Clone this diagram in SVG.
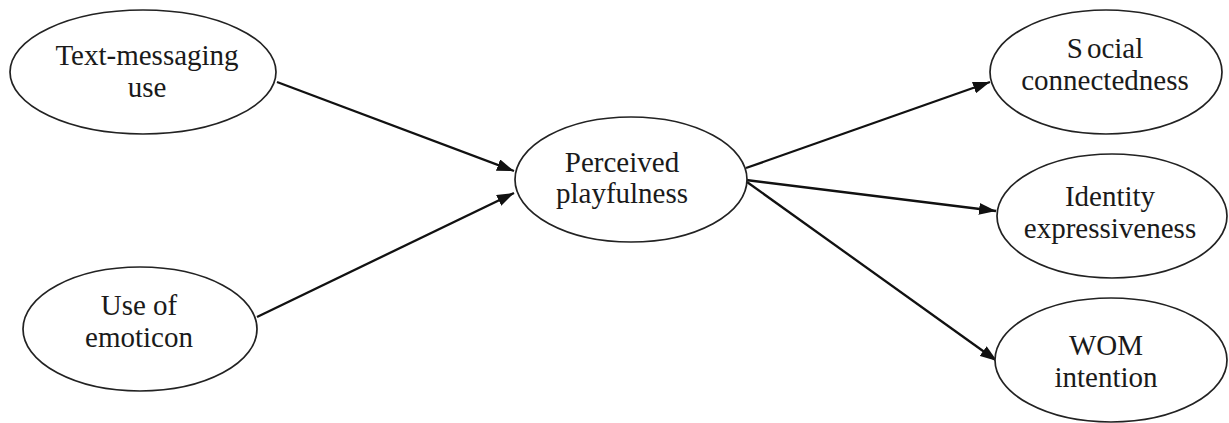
<svg xmlns="http://www.w3.org/2000/svg" width="1229" height="423" viewBox="0 0 1229 423">
<style>
.n{fill:#fff;stroke:#222;stroke-width:1.7}
.t{font-family:"Liberation Serif","Times New Roman",serif;font-size:29px;fill:#1a1a1a;text-anchor:middle}
.c{stroke:#111;stroke-width:2.3;fill:none;marker-end:url(#ah)}
</style>
<defs>
<marker id="ah" viewBox="0 0 17 12" refX="17" refY="6" markerWidth="17" markerHeight="12" markerUnits="userSpaceOnUse" orient="auto">
<path d="M0,0 L17,6 L0,12 Z" fill="#111"/>
</marker>
</defs>
<rect width="1229" height="423" fill="#fff"/>
<g id="connectors">
<line class="c" x1="277" y1="82" x2="514" y2="171"/>
<line class="c" x1="257" y1="317" x2="514" y2="193"/>
<line class="c" x1="746" y1="168" x2="990" y2="82"/>
<line class="c" x1="746" y1="180" x2="996" y2="211"/>
<line class="c" x1="747" y1="182" x2="997" y2="361"/>
</g>
<g id="text-messaging">
<ellipse class="n" cx="143" cy="72" rx="133" ry="62"/>
<text class="t" x="147" y="65">Text-messaging</text>
<text class="t" x="147" y="97">use</text>
</g>
<g id="emoticon">
<ellipse class="n" cx="140" cy="329" rx="117" ry="62"/>
<text class="t" x="139" y="315">Use of</text>
<text class="t" x="139" y="347">emoticon</text>
</g>
<g id="playfulness">
<ellipse class="n" cx="631" cy="179.5" rx="116" ry="62.5"/>
<text class="t" x="622" y="172">Perceived</text>
<text class="t" x="622" y="203">playfulness</text>
</g>
<g id="social">
<ellipse class="n" cx="1106" cy="72" rx="116" ry="62"/>
<text class="t" x="1105" y="58">S<tspan dx="4">ocial</tspan></text>
<text class="t" x="1105" y="90">connectedness</text>
</g>
<g id="identity">
<ellipse class="n" cx="1112" cy="216" rx="115" ry="62"/>
<text class="t" x="1110" y="206">Identity</text>
<text class="t" x="1110" y="238">expressiveness</text>
</g>
<g id="wom">
<ellipse class="n" cx="1111" cy="360" rx="116" ry="62"/>
<text class="t" x="1106" y="355">WOM</text>
<text class="t" x="1106" y="387">intention</text>
</g>
</svg>
